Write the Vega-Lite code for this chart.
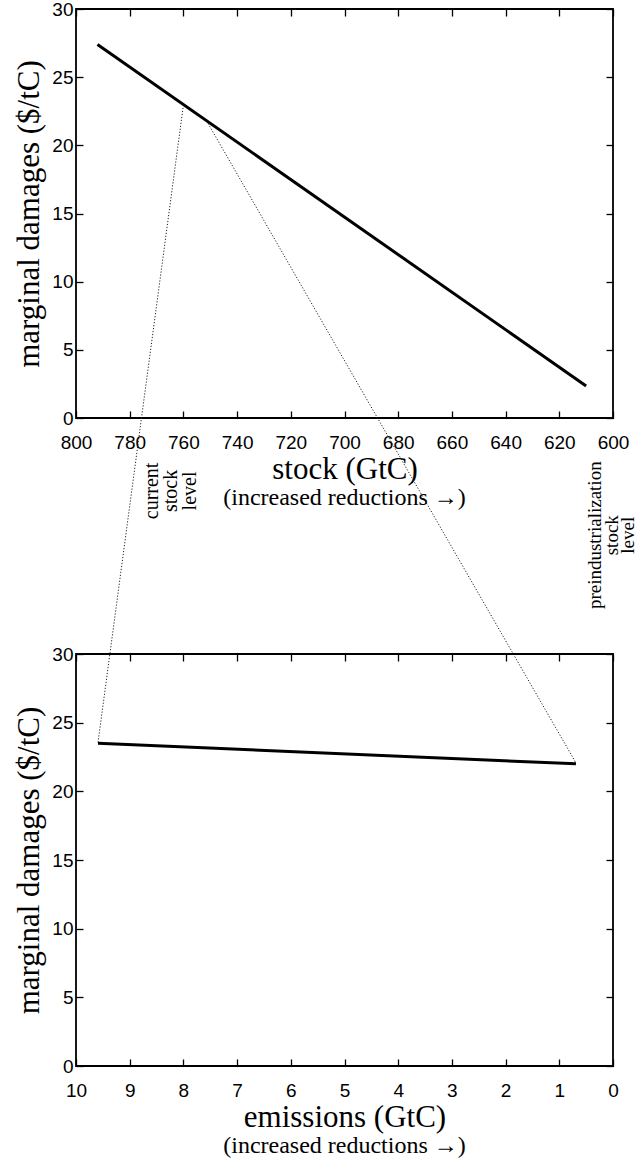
{
  "$schema": "https://vega.github.io/schema/vega-lite/v6.json",
  "background": "white",
  "padding": {"left": 12, "top": -1, "right": 0, "bottom": 0},
  "bounds": "flush",
  "spacing": 236,
  "config": {
    "view": {"stroke": "black", "strokeWidth": 1.8},
    "axis": {
      "grid": false, "domain": false, "tickColor": "black", "tickWidth": 1.3, "tickSize": -7,
      "labelFont": "Liberation Sans", "labelFontSize": 19, "labelColor": "black",
      "titleFont": "Liberation Serif", "titleFontSize": 31, "titleFontWeight": "normal", "titleColor": "black",
      "labelFlush": false, "labelOverlap": false
    },
    "text": {"font": "Liberation Serif", "color": "black"}
  },
  "datasets": {
    "stockLine": [{"stock": 792, "damage": 27.4}, {"stock": 610, "damage": 2.35}],
    "emisLine": [{"emissions": 9.59, "damage": 23.5}, {"emissions": 0.69, "damage": 22.0}],
    "links": [
      {"link": "a", "stock": 760.1, "damage": 22.8}, {"link": "a", "stock": 791.8, "damage": -23.8},
      {"link": "b", "stock": 750.8, "damage": 21.6}, {"link": "b", "stock": 613.8, "damage": -25.3}
    ],
    "noteCurrent": [{"stock": 771.7, "damage": -5.35, "note": "current\nstock\nlevel"}],
    "notePre": [{"stock": 606.7, "damage": -8.6, "note": "preindustrialization\nstock\nlevel"}],
    "stockSub": [{"stock": 700, "damage": -6.4, "text": "(increased reductions →)"}],
    "emisSub": [{"emissions": 5, "damage": -6.33, "text": "(increased reductions →)"}]
  },
  "vconcat": [
    {
      "width": 537, "height": 409,
      "layer": [
        {
          "data": {"name": "stockLine"},
          "mark": {"type": "line", "color": "black", "strokeWidth": 3},
          "encoding": {
            "x": {"field": "stock", "type": "quantitative", "scale": {"domain": [800, 600], "nice": false},
                  "axis": {"orient": "bottom", "values": [800, 780, 760, 740, 720, 700, 680, 660, 640, 620, 600], "title": "stock (GtC)", "labelPadding": 22, "titlePadding": 2}},
            "y": {"field": "damage", "type": "quantitative", "scale": {"domain": [0, 30], "nice": false},
                  "axis": {"orient": "left", "values": [0, 5, 10, 15, 20, 25, 30], "title": "marginal damages ($/tC)", "labelPadding": 10, "titlePadding": 6}}
          }
        },
        {
          "data": {"name": "stockLine"},
          "mark": {"type": "line", "opacity": 0},
          "encoding": {
            "x": {"field": "stock", "type": "quantitative", "axis": {"orient": "top", "labels": false, "title": null, "values": [800, 780, 760, 740, 720, 700, 680, 660, 640, 620, 600]}},
            "y": {"field": "damage", "type": "quantitative", "axis": {"orient": "right", "labels": false, "title": null, "values": [0, 5, 10, 15, 20, 25, 30]}}
          }
        },
        {
          "data": {"name": "links"},
          "mark": {"type": "line", "color": "#222", "strokeWidth": 1, "strokeDash": [1.2, 1.8]},
          "encoding": {
            "x": {"field": "stock", "type": "quantitative", "axis": null},
            "y": {"field": "damage", "type": "quantitative", "axis": null},
            "detail": {"field": "link"}
          }
        },
        {
          "data": {"name": "noteCurrent"},
          "mark": {"type": "text", "angle": 270, "lineBreak": "\n", "fontSize": 20, "lineHeight": 19, "align": "center", "baseline": "middle"},
          "encoding": {
            "x": {"field": "stock", "type": "quantitative", "axis": null},
            "y": {"field": "damage", "type": "quantitative", "axis": null},
            "text": {"field": "note"}
          }
        },
        {
          "data": {"name": "notePre"},
          "mark": {"type": "text", "angle": 270, "lineBreak": "\n", "fontSize": 19, "lineHeight": 16.5, "align": "center", "baseline": "middle"},
          "encoding": {
            "x": {"field": "stock", "type": "quantitative", "axis": null},
            "y": {"field": "damage", "type": "quantitative", "axis": null},
            "text": {"field": "note"}
          }
        },
        {
          "data": {"name": "stockSub"},
          "mark": {"type": "text", "fontSize": 24, "align": "center", "baseline": "alphabetic"},
          "encoding": {
            "x": {"field": "stock", "type": "quantitative", "axis": null},
            "y": {"field": "damage", "type": "quantitative", "axis": null},
            "text": {"field": "text"}
          }
        }
      ],
      "resolve": {"axis": {"x": "independent", "y": "independent"}}
    },
    {
      "width": 537, "height": 412,
      "layer": [
        {
          "data": {"name": "emisLine"},
          "mark": {"type": "line", "color": "black", "strokeWidth": 3},
          "encoding": {
            "x": {"field": "emissions", "type": "quantitative", "scale": {"domain": [10, 0], "nice": false},
                  "axis": {"orient": "bottom", "values": [10, 9, 8, 7, 6, 5, 4, 3, 2, 1, 0], "title": "emissions (GtC)", "labelPadding": 22, "titlePadding": 2}},
            "y": {"field": "damage", "type": "quantitative", "scale": {"domain": [0, 30], "nice": false},
                  "axis": {"orient": "left", "values": [0, 5, 10, 15, 20, 25, 30], "title": "marginal damages ($/tC)", "labelPadding": 10, "titlePadding": 6}}
          }
        },
        {
          "data": {"name": "emisLine"},
          "mark": {"type": "line", "opacity": 0},
          "encoding": {
            "x": {"field": "emissions", "type": "quantitative", "axis": {"orient": "top", "labels": false, "title": null, "values": [10, 9, 8, 7, 6, 5, 4, 3, 2, 1, 0]}},
            "y": {"field": "damage", "type": "quantitative", "axis": {"orient": "right", "labels": false, "title": null, "values": [0, 5, 10, 15, 20, 25, 30]}}
          }
        },
        {
          "data": {"name": "emisSub"},
          "mark": {"type": "text", "fontSize": 24, "align": "center", "baseline": "alphabetic"},
          "encoding": {
            "x": {"field": "emissions", "type": "quantitative", "axis": null},
            "y": {"field": "damage", "type": "quantitative", "axis": null},
            "text": {"field": "text"}
          }
        }
      ],
      "resolve": {"axis": {"x": "independent", "y": "independent"}}
    }
  ]
}
